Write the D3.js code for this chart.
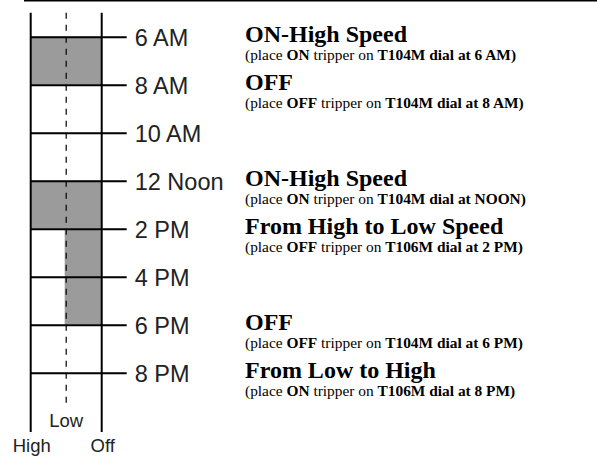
<!DOCTYPE html>
<html><head><meta charset="utf-8">
<script src="https://cdn.jsdelivr.net/npm/d3@7"></script>
<style>
html,body{margin:0;padding:0;background:#fff;}
svg{display:block;}
</style></head>
<body>
<svg id="chart" width="597" height="456"></svg>
<script>
// ---- data ----
const hours = [6, 8, 10, 12, 14, 16, 18, 20];
const tickLabels = ["6 AM", "8 AM", "10 AM", "12 Noon", "2 PM", "4 PM", "6 PM", "8 PM"];
const speeds = ["High", "Low", "Off"];
// shaded periods: [start hour, end hour, from speed]
const runStart = [6, 12, 14];
const runEnd = [8, 14, 18];
const runSpeed = ["High", "High", "Low"];
// notes at hours
const noteHours = [6, 8, 12, 14, 18, 20];
const noteHeads = ["ON-High Speed", "OFF", "ON-High Speed", "From High to Low Speed", "OFF", "From Low to High"];
const noteTripper = ["ON", "OFF", "ON", "OFF", "OFF", "ON"];
const noteDial = ["T104M dial at 6 AM)", "T104M dial at 8 AM)", "T104M dial at NOON)", "T106M dial at 2 PM)", "T104M dial at 6 PM)", "T106M dial at 8 PM)"];

// ---- scales ----
const svg = d3.select("#chart");
const y = d3.scaleLinear().domain([6, 20]).range([36.7, 372.7]);
const x = d3.scalePoint().domain(speeds).range([30.7, 101.7]);

// top rule
svg.append("line").attr("x1", 24).attr("x2", 597).attr("y1", 0.7).attr("y2", 0.7)
  .attr("stroke", "#000").attr("stroke-width", 1.5);

// shaded rects
svg.selectAll("rect.run").data(runStart.map((s, i) => ({s, e: runEnd[i], sp: runSpeed[i]})))
  .enter().append("rect")
  .attr("x", d => x(d.sp) - (d.sp === "Low" ? 1.5 : 0))
  .attr("y", d => y(d.s))
  .attr("width", d => x("Off") - x(d.sp) + (d.sp === "Low" ? 1.5 : 0))
  .attr("height", d => y(d.e) - y(d.s))
  .attr("fill", "#9b9b9b");

// axis with ticks extending right
const axis = d3.axisRight(y).tickValues(hours)
  .tickFormat((d, i) => tickLabels[i])
  .tickSize(x("Off") - x("High") + 25).tickPadding(8);
const ag = svg.append("g").attr("transform", `translate(${x("High")},0)`).call(axis);
ag.select(".domain").remove();
ag.selectAll(".tick line").attr("stroke", "#000").attr("stroke-width", 2);
ag.selectAll(".tick text").attr("fill", "#222")
  .style("font-family", "'Liberation Sans', Arial, sans-serif").style("font-size", "23.5px")
  .attr("dy", "0.36em");

// vertical lines
svg.selectAll("line.v").data(["High", "Off"]).enter().append("line")
  .attr("x1", d => x(d)).attr("x2", d => x(d))
  .attr("y1", y(5)).attr("y2", y(22.47))
  .attr("stroke", "#000").attr("stroke-width", 2);
svg.append("line").attr("x1", x("Low")).attr("x2", x("Low"))
  .attr("y1", y(5)).attr("y2", y(21.35))
  .attr("stroke", "#000").attr("stroke-width", 1.2).attr("stroke-dasharray", "6,6");

// bottom labels
const lab = "'Liberation Sans', Arial, sans-serif";
svg.append("text").attr("x", x("Low")).attr("y", 426.7).attr("text-anchor", "middle")
  .style("font-family", lab).style("font-size", "18.5px").attr("fill", "#222").text("Low");
svg.selectAll("text.bl").data(["High", "Off"]).enter().append("text")
  .attr("x", d => x(d) + 1).attr("y", 451.7).attr("text-anchor", "middle")
  .style("font-family", lab).style("font-size", "18.5px").attr("fill", "#222").text(d => d);

// notes
const serif = "'Liberation Serif', 'Times New Roman', serif";
noteHours.forEach((h, i) => {
  svg.append("text").attr("x", 245).attr("y", y(h) + 5.5)
    .style("font-family", serif).style("font-size", "24px").style("font-weight", "bold")
    .attr("fill", "#000").text(noteHeads[i]);
  const t = svg.append("text").attr("x", 245).attr("y", y(h) + 23)
    .style("font-family", serif).style("font-size", "15.4px").attr("fill", "#000");
  t.append("tspan").text("(place ");
  t.append("tspan").style("font-weight", "bold").text(noteTripper[i]);
  t.append("tspan").text(" tripper on ");
  t.append("tspan").style("font-weight", "bold").text(noteDial[i]);
});
</script>
</body></html>
